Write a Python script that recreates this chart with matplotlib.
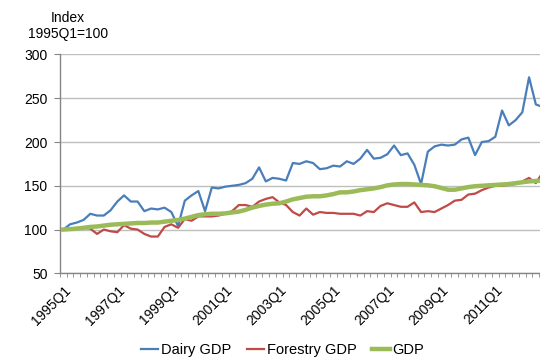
import numpy as np
import matplotlib.pyplot as plt
import matplotlib.transforms as mtransforms
from matplotlib.ticker import FixedLocator

plt.rcParams['font.family'] = ['Liberation Sans', 'DejaVu Sans']
plt.rcParams['font.size'] = 10

# quarterly index, 1995Q1 = 100
quarters = [f'{yr}Q{q}' for yr in range(1995, 2013) for q in range(1, 5)]

dairy = [100, 106, 108, 111, 118, 116, 116, 122, 132, 139, 132, 132,
         121, 124, 123, 125, 120, 104, 133, 139, 144, 121, 148, 147,
         149, 150, 151, 153, 158, 171, 155, 159, 158, 156, 176, 175,
         178, 176, 169, 170, 173, 172, 178, 175, 181, 191, 181, 182,
         186, 196, 185, 187, 174, 152, 189, 195, 197, 196, 197, 203,
         205, 185, 200, 201, 206, 236, 219, 225, 234, 274, 243, 240]

forestry = [100, 101, 102, 102, 101, 95, 100, 98, 97, 105, 101, 100,
            95, 92, 92, 103, 106, 102, 112, 110, 115, 115, 115, 116,
            118, 121, 128, 128, 126, 132, 135, 137, 131, 128, 120, 116,
            124, 117, 120, 119, 119, 118, 118, 118, 116, 121, 120, 127,
            130, 128, 126, 126, 131, 120, 121, 120, 124, 128, 133, 134,
            140, 141, 145, 148, 150, 150, 151, 152, 155, 159, 153, 165]

gdp = [100, 100.5, 101, 102, 103, 103.5, 104.5, 105.5, 106, 106.5, 107, 107.5,
       107.5, 108, 108, 109, 110, 111, 112.5, 114.5, 116.5, 117.5, 118, 118,
       118.5, 119.5, 120.5, 122.5, 125, 127, 128.5, 129.5, 130, 132, 134.5, 136,
       137.5, 138, 138, 139, 140.5, 142.5, 142.5, 143.5, 145, 146, 147, 148.5,
       150.5, 151.5, 152, 152, 151.5, 151, 150.5, 149.5, 147.5, 145.5, 145.5, 147,
       148.5, 149.5, 150, 150.5, 151, 151.5, 152, 153, 154, 155, 155.5, 156]

axis_grey = '#868686'

fig = plt.figure(figsize=(5.4, 3.59), dpi=100)
ax = fig.add_axes([0.111, 0.2387, 0.9, 0.6095])

x = np.arange(len(quarters))
ax.plot(x, dairy, color='#4A7EBB', lw=1.6, label='Dairy GDP', zorder=3)
ax.plot(x, forestry, color='#BE4B48', lw=1.6, label='Forestry GDP', zorder=4)
ax.plot(x, gdp, color='#9BBB59', lw=3.2, label='GDP', zorder=5)

ax.set_xlim(-0.5, len(quarters) - 0.5)
ax.set_ylim(50, 300)
ax.set_yticks(range(50, 301, 50))
ax.grid(axis='y', color='#BFBFBF', lw=1)
ax.set_axisbelow(True)

for side in ['top', 'right']:
    ax.spines[side].set_visible(False)
for side in ['left', 'bottom']:
    ax.spines[side].set_color(axis_grey)
    ax.spines[side].set_linewidth(1)

# labels every 2 years, small tick at each quarter boundary
ax.set_xticks(x[::8])
ax.set_xticklabels(quarters[::8], rotation=45, ha='right', rotation_mode='anchor')
shift = mtransforms.ScaledTranslation(1.5 / 72, 0, fig.dpi_scale_trans)
for lbl in ax.get_xticklabels():
    lbl.set_transform(lbl.get_transform() + shift)
ax.xaxis.set_minor_locator(FixedLocator(np.arange(-0.5, len(quarters), 1)))
ax.tick_params(axis='x', which='major', length=0, pad=7)
ax.tick_params(axis='x', which='minor', length=3, color=axis_grey)
ax.tick_params(axis='y', length=4, color=axis_grey, pad=5)

fig.text(0.126, 0.968, 'Index\n1995Q1=100', ha='center', va='top', linespacing=1.15)

fig.legend(loc='center', bbox_to_anchor=(0.523, 0.024), ncol=3, frameon=False,
           handlelength=1.2, handletextpad=0.15, columnspacing=1.1, fontsize=10.5)

fig.savefig('out.png', dpi=100)
